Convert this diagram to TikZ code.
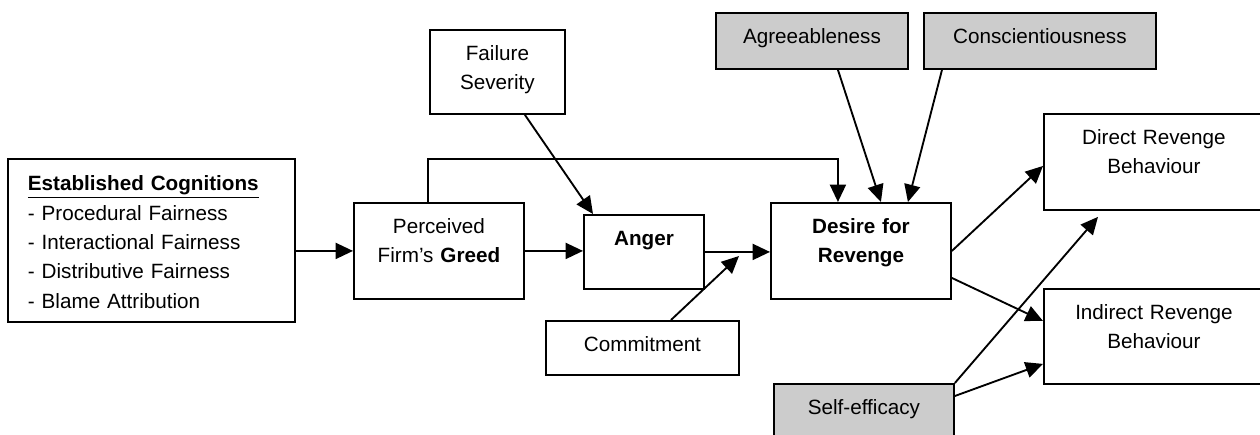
\documentclass[tikz,border=0pt]{standalone}
\usepackage{fontspec}
\setmainfont{Liberation Sans}
\usetikzlibrary{arrows.meta}

\tikzset{
  box/.style 2 args={draw, inner sep=0pt, align=center, anchor=north west,
    text width=#1, text height=23pt, text depth=#2,
    font=\fontsize{15.5pt}{22pt}\selectfont},
  trait/.style={fill=black!20},
}

\begin{document}
\begin{tikzpicture}[>={Triangle[length=13pt,width=12pt]},line width=1.4pt,x=0.75pt,y=-0.75pt]
        \useasboundingbox (0,0) rectangle (1260,435);
        % boxes
        \node[box={185.25pt}{98.25pt},align=left,inner xsep=15pt,text height=24pt] (cog) at (7,158)
            {\underline{\textbf{Established Cognitions}}\\- Procedural Fairness\\- Interactional Fairness\\- Distributive Fairness\\- Blame Attribution};
        \node[box={127.5pt}{49pt}] (greed) at (353,202) {Perceived\\Firm’s \textbf{Greed}};
        \node[box={90pt}{32.5pt}] (anger) at (583,214) {\textbf{Anger}};
        \node[box={101.25pt}{40pt}] (failure) at (429,29) {Failure\\Severity};
        \node[box={144.75pt}{17.5pt}] (commit) at (545,320) {Commitment};
        \node[box={135pt}{49pt}] (desire) at (770,202) {\textbf{Desire for}\\\textbf{Revenge}};
        \node[box={144pt}{19pt},trait] (agree) at (715,12) {Agreeableness};
        \node[box={174pt}{19pt},trait] (consc) at (923,12) {Conscientiousness};
        \node[box={165pt}{49pt}] (direct) at (1043,113) {Direct Revenge\\Behaviour};
        \node[box={165pt}{48.25pt}] (indirect) at (1043,288) {Indirect Revenge\\Behaviour};
        \node[box={135pt}{19pt},trait] (self) at (773,383) {Self-efficacy};
        \coordinate (meet) at (739,256);
        % arrows
        \draw[->] (cog.east |- greed.west) -- (greed.west);
        \draw[->] (greed.east) -- (greed.east -| anger.west);
        \draw[->] (anger.east) -- (anger.east -| desire.west);
        \draw[->] ([xshift=-8.25pt]greed.north) -- ++(0,-43) -| ([xshift=-17.25pt]desire.north);
        \draw[->] ([xshift=20.6pt]failure.south) -- ([xshift=7.5pt]anger.north west);
        \draw[->] ([xshift=21.4pt]commit.north) -- (meet);
        \draw[->] ([xshift=19.5pt]agree.south) -- ([xshift=15pt]desire.north);
        \draw[->] ([xshift=14.25pt]consc.south west) -- ([xshift=35.25pt]desire.north);
        \draw[->] (desire.east) -- ([yshift=-3pt]direct.west);
        \draw[->] ([yshift=-20.25pt]desire.east) -- ([yshift=11.6pt]indirect.west);
        \draw[->] (self.north east) -- ([xshift=41.25pt,yshift=-4.5pt]direct.south west);
        \draw[->] ([yshift=-9.75pt]self.north east) -- ([yshift=-20.6pt]indirect.west);
    \end{tikzpicture}
\end{document}
